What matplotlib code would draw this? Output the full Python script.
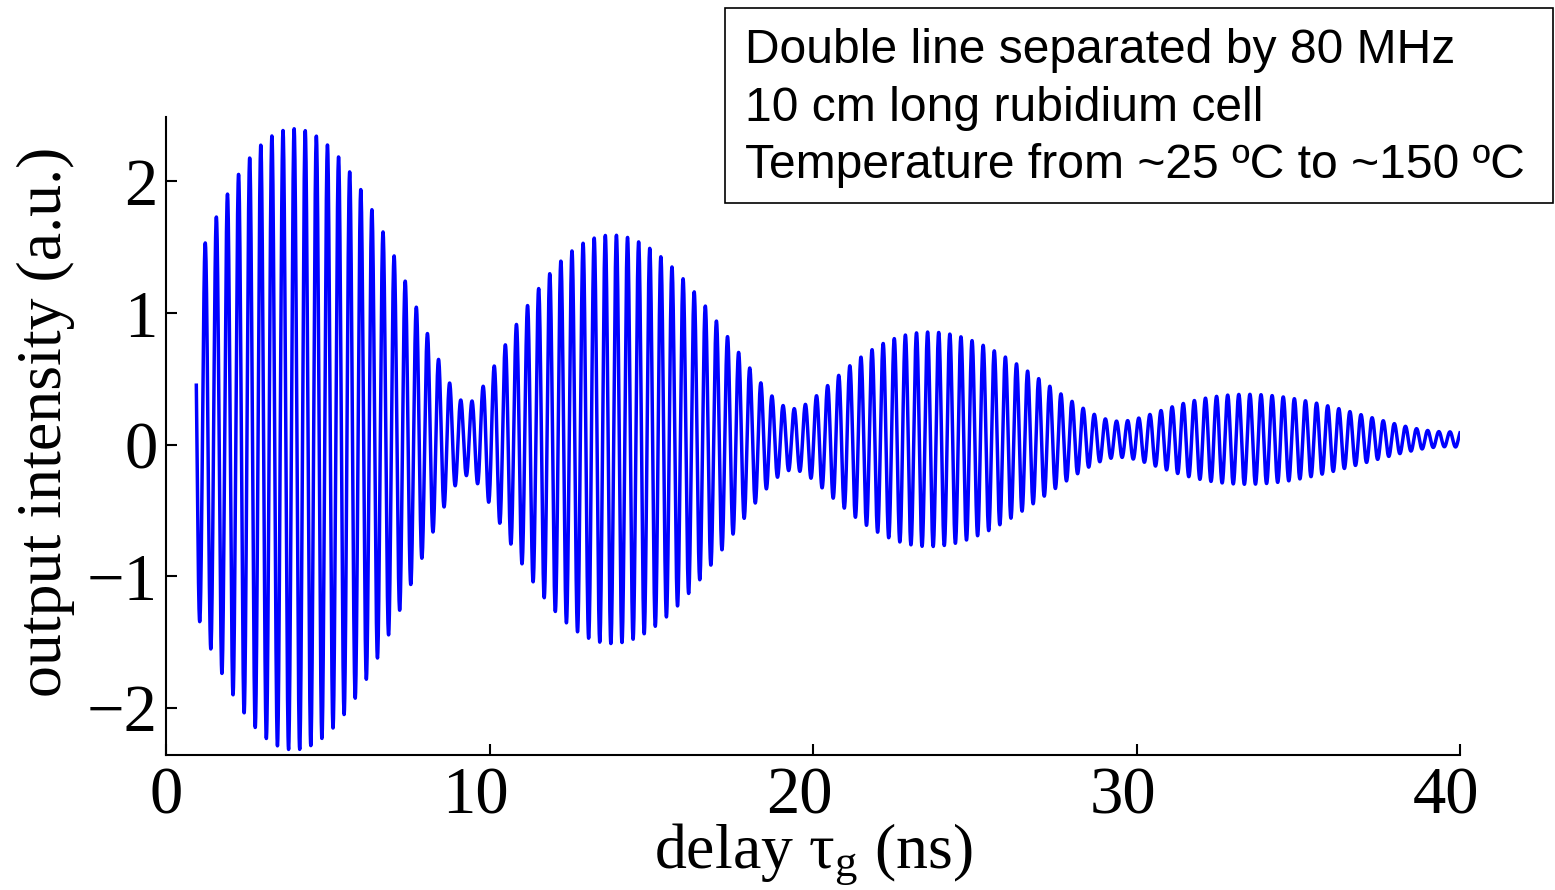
import numpy as np
import matplotlib.pyplot as plt
from matplotlib.transforms import ScaledTranslation

plt.rcParams['font.family'] = 'Liberation Serif'
plt.rcParams['mathtext.fontset'] = 'custom'
plt.rcParams['mathtext.rm'] = 'Liberation Serif'
plt.rcParams['mathtext.it'] = 'Liberation Serif:italic'

# lobe maxima of the beat signal (delay in ns, half peak-to-peak)
lobe_t = [4.0, 13.95, 23.45, 33.45]
lobe_amp = [2.36, 1.58, 0.84, 0.36]
# minima between the lobes
node_t = [9.3, 19.3, 29.6, 39.5]
node_amp = [0.275, 0.235, 0.135, 0.057]

t_start, t_end = 0.935, 40.0
period = 0.34357        # fringe period (ns)
first_peak = 1.21       # delay of the first fringe maximum
baseline = 0.04

box_lines = ["Double line separated by 80 MHz",
             "10 cm long rubidium cell",
             "Temperature from ~25 \u00baC to ~150 \u00baC"]


def beat_signal(t):
    # sum/difference amplitudes of the two lines, smooth in log space
    s = np.exp(np.polyval(np.polyfit(lobe_t, np.log(lobe_amp), 2), t))
    d = np.exp(np.polyval(np.polyfit(node_t, np.log(node_amp), 2), t))
    beat = np.mean(np.diff(node_t))
    ph = np.pi * (t - node_t[0]) / beat
    env = np.sqrt((s * np.sin(ph)) ** 2 + (d * np.cos(ph)) ** 2)
    return baseline + env * np.cos(2 * np.pi * (t - first_peak) / period)


def main():
    t = np.arange(t_start, t_end, 0.004)
    y = beat_signal(t)

    fig = plt.figure(figsize=(15.55, 8.9), dpi=100)
    ax = fig.add_axes([0.1068, 0.1517, 0.8321, 0.7168])
    ax.plot(t, y, color='#0000ff', lw=2.5)

    ax.set_xlim(0, 40)
    ax.set_ylim(-2.36, 2.49)
    ax.set_xticks([0, 10, 20, 30, 40])
    ax.set_yticks([-2, -1, 0, 1, 2])
    ax.spines['top'].set_visible(False)
    ax.spines['right'].set_visible(False)
    for s in ('left', 'bottom'):
        ax.spines[s].set_linewidth(1.5)
    ax.tick_params(direction='in', length=8, width=1.5, labelsize=48, pad=6)
    ax.tick_params(axis='x', pad=8)

    # two-digit labels sit a little left of their ticks
    shift = ScaledTranslation(-14 / 100, 0, fig.dpi_scale_trans)
    for lab in ax.get_xticklabels()[1:]:
        lab.set_transform(lab.get_transform() + shift)

    ax.set_xlabel('delay \u03c4$_{\\mathrm{g}}$ (ns)', fontsize=46, labelpad=-4)
    ax.set_ylabel('output intensity (a.u.)', fontsize=46)
    ax.yaxis.set_label_coords(-0.070, 0.522)

    # annotation box in the upper right corner
    fig.patches.append(plt.Rectangle((725 / 1555, 1 - 203 / 890),
                                     828 / 1555, 195 / 890,
                                     transform=fig.transFigure, fill=False,
                                     edgecolor='black', lw=1.2))
    fig.text(745 / 1555, 1 - 28 / 890, '\n'.join(box_lines),
             family='Liberation Sans', fontsize=34.6, va='top', ha='left',
             linespacing=1.36)

    fig.savefig('out.png', dpi=100)


if __name__ == '__main__':
    main()
